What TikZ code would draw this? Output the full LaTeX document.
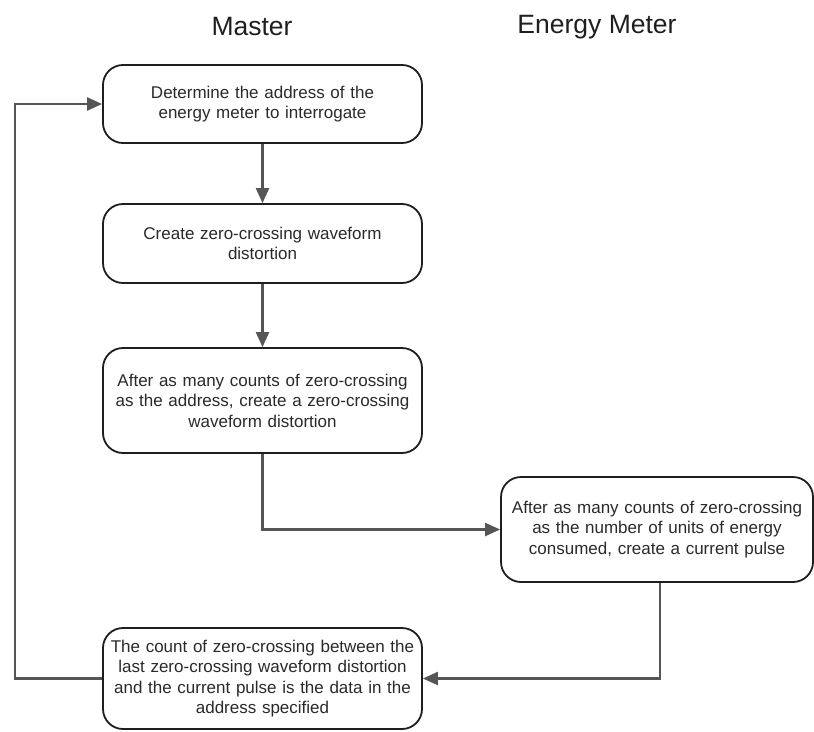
\documentclass[tikz,border=0pt]{standalone}
\usepackage{fontspec}
\setmainfont{Liberation Sans}
\usetikzlibrary{arrows.meta}
\definecolor{boxline}{HTML}{1E1E1E}
\definecolor{conn}{HTML}{555555}
\definecolor{txt}{HTML}{2A2A2A}
\tikzset{
  stepbox/.style={draw=boxline, line width=1.8pt, rounded corners=20pt, fill=white,
    align=center, text=txt, inner sep=2pt,
    font=\fontsize{17}{20.5}\selectfont},
  conn/.style={draw=conn, line width=2.2pt, -{Triangle[length=15pt,width=13pt]}},
  title/.style={text=black!88, font=\fontsize{26.5}{30}\selectfont}
}
\begin{document}
\begin{tikzpicture}[x=1pt,y=-1pt]
\useasboundingbox (0,0) rectangle (814,731);
\node[title] (tm) at (252,27) {Master};
\node[title] (te) at (597,27) {Energy Meter};

\node[stepbox, minimum width=319pt, minimum height=78pt, text width=305pt] (b1) at (262.5,104)
  {Determine the address of the\\energy meter to interrogate};
\node[stepbox, minimum width=319pt, minimum height=79pt, text width=305pt] (b2) at (262.5,243.5)
  {Create zero-crossing waveform\\distortion};
\node[stepbox, minimum width=319pt, minimum height=105pt, text width=315pt] (b3) at (262.5,400.5)
  {After as many counts of zero-crossing\\as the address, create a zero-crossing\\waveform distortion};
\node[stepbox, minimum width=312pt, minimum height=105pt, text width=305pt] (b4) at (657,529.5)
  {After as many counts of zero-crossing\\as the number of units of energy\\consumed, create a current pulse};
\node[stepbox, minimum width=319pt, minimum height=101pt, text width=315pt] (b5) at (262.5,678.5)
  {The count of zero-crossing between the\\last zero-crossing waveform distortion\\and the current pulse is the data in the\\address specified};

\coordinate (l1) at (15,678.5);
\coordinate (l2) at (15,104);
\coordinate (d4) at (660,529.5);

\draw[conn] (b1) -- (b2);
\draw[conn] (b2) -- (b3);
\draw[conn] (b3.south) |- (b4.west);
\draw[conn] (b4.south -| d4) |- (b5.east);
\draw[conn] (b5.west) -- (l1) -- (l2) -- (b1.west);
\end{tikzpicture}
\end{document}
